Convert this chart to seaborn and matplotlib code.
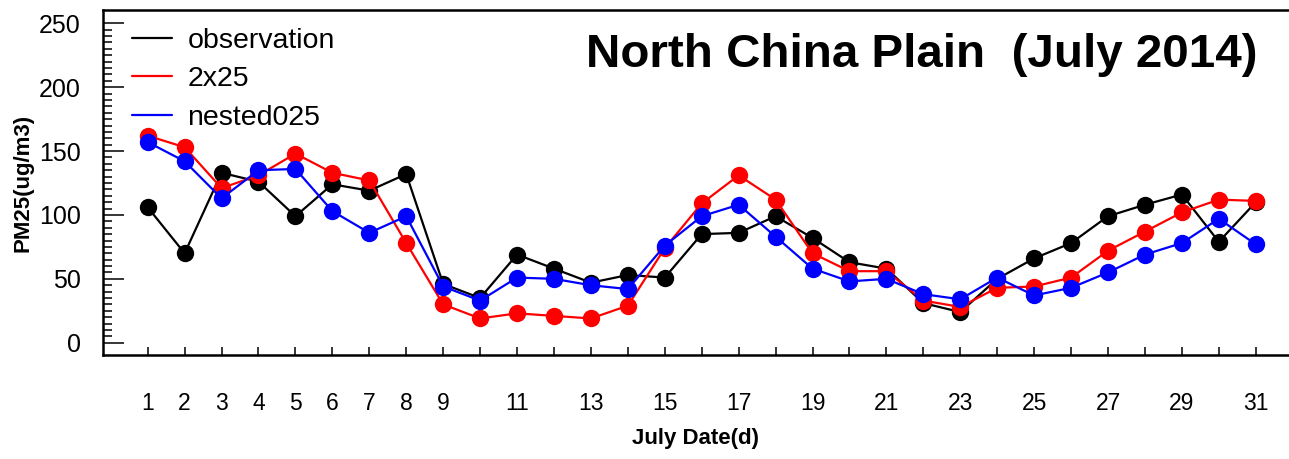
import matplotlib
matplotlib.use("Agg")
import matplotlib.pyplot as plt
from matplotlib.lines import Line2D
from matplotlib.ticker import FixedLocator, FixedFormatter
import pandas as pd
import seaborn as sns

# Daily mean PM2.5 over the North China Plain, July 2014
days = list(range(1, 32))
observation = [106, 70, 133, 126, 99, 124, 119, 132, 46, 35, 69, 58, 47, 53, 51, 85,
               86, 99, 82, 63, 58, 31, 24, 50, 66, 78, 99, 108, 116, 79, 110]
run_2x25 = [162, 153, 121, 131, 148, 133, 127, 78, 30, 19, 23, 21, 19, 29, 74, 109,
            131, 112, 70, 56, 56, 33, 28, 43, 44, 51, 72, 87, 102, 112, 111]
nested025 = [157, 142, 113, 135, 136, 103, 86, 99, 44, 33, 51, 50, 45, 42, 76, 99,
             108, 83, 58, 48, 50, 38, 34, 51, 37, 43, 55, 69, 78, 97, 77]

series_names = ["observation", "2x25", "nested025"]
series_colors = ["#000000", "#ff0000", "#0000ff"]
x_tick_labels = [str(d) if (d < 10 or d % 2 == 1) else "" for d in days]
y_ticks = [0, 50, 100, 150, 200, 250]

df = pd.DataFrame({
    "day": days * 3,
    "pm25": observation + run_2x25 + nested025,
    "series": [series_names[0]] * 31 + [series_names[1]] * 31 + [series_names[2]] * 31,
})

sns.set_style("ticks")
plt.rcParams["font.family"] = ["Liberation Sans", "DejaVu Sans"]
plt.rcParams["text.color"] = "black"
plt.rcParams["axes.labelcolor"] = "black"

W, H = 1289, 459
fig = plt.figure(figsize=(W / 100, H / 100), dpi=100)
ax = fig.add_axes([103 / W, 1 - 355 / H, (W - 103) / W, 345 / H])

sns.lineplot(
    data=df, x="day", y="pm25", hue="series", hue_order=series_names,
    palette=dict(zip(series_names, series_colors)), marker="o", markersize=12.5,
    markeredgewidth=0, linewidth=1.6, legend=False, ax=ax, zorder=3,
)

ax.set_xlim(-0.21, 31.9)
ax.set_ylim(-9.6, 260.4)

ax.xaxis.set_major_locator(FixedLocator(days))
ax.xaxis.set_major_formatter(FixedFormatter(x_tick_labels))
ax.yaxis.set_major_locator(FixedLocator(y_ticks))
ax.yaxis.set_minor_locator(FixedLocator([v for v in range(0, 251, 5) if v % 50]))

ax.tick_params(axis="x", which="major", direction="in", length=5.8, width=1.1,
               pad=27, labelsize=16.5, top=False, color="black", labelcolor="black")
ax.tick_params(axis="y", which="major", direction="in", length=15, width=1.1,
               pad=16, labelsize=18, right=False, color="black", labelcolor="black")
ax.tick_params(axis="y", which="minor", direction="in", length=6.5, width=1.1,
               right=False, color="black")

for side in ["left", "bottom", "top"]:
    ax.spines[side].set_linewidth(1.8)
    ax.spines[side].set_color("black")
ax.spines["right"].set_visible(False)

ax.set_xlabel("July Date(d)", fontsize=16, fontweight="bold")
ax.set_ylabel("PM25(ug/m3)", fontsize=16, fontweight="bold")
ax.xaxis.set_label_coords(0.5, (355 - 428) / 345)
ax.yaxis.set_label_coords((34 - 103) / (W - 103), 0.5)

handles = [Line2D([], [], color=c, linewidth=1.6) for c in series_colors]
ax.legend(handles, series_names, loc="upper left", bbox_to_anchor=(0.01, 0.997),
          frameon=False, fontsize=20.5, handlelength=1.4, handletextpad=0.55,
          labelspacing=0.43, borderaxespad=0.2)

fig.text(1257 / W, 1 - 55 / H, "North China Plain  (July 2014)", ha="right",
         va="center", fontsize=34.2, fontweight="bold")

fig.savefig("out.png", dpi=100, facecolor="white")
